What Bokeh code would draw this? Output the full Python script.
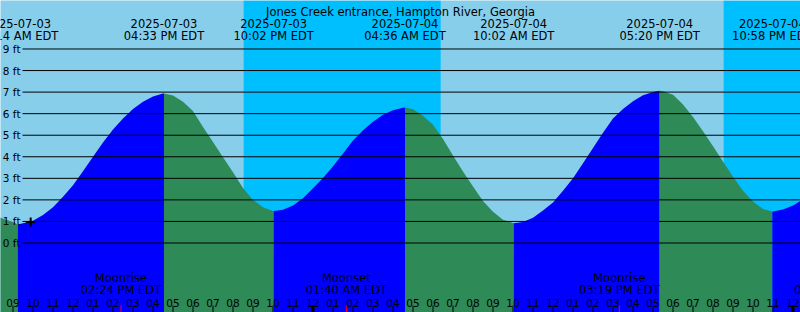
import pandas as pd
from bokeh.plotting import figure
from bokeh.models import Range1d
from bokeh.core.properties import value
from bokeh.embed import file_html
from bokeh.resources import INLINE

# ---------------- data ----------------
title_text = "Jones Creek entrance, Hampton River, Georgia"
T0 = pd.Timestamp("2025-07-03 00:00")

extreme_times = ["2025-07-03 09:14", "2025-07-03 16:33", "2025-07-03 22:02",
                 "2025-07-04 04:36", "2025-07-04 10:02", "2025-07-04 17:20",
                 "2025-07-04 22:58"]
extreme_heights = [0.86, 6.94, 1.48, 6.29, 0.92, 7.06, 1.46]
extreme_dates = ["2025-07-03", "2025-07-03", "2025-07-03", "2025-07-04",
                 "2025-07-04", "2025-07-04", "2025-07-04"]
extreme_clock = ["09:14 AM EDT", "04:33 PM EDT", "10:02 PM EDT", "04:36 AM EDT",
                 "10:02 AM EDT", "05:20 PM EDT", "10:58 PM EDT"]

# half-hourly water level, from 2025-07-03 08:00 to 2025-07-05 01:00
level_start = "2025-07-03 08:00"
level_step_min = 30
level_heights = [1.32, 1.12, 0.97, 0.92, 1.03, 1.30, 1.66, 2.15, 2.68,
                 3.33, 4.00, 4.66, 5.27, 5.78, 6.22, 6.55, 6.80, 6.93,
                 6.84, 6.55, 6.12, 5.38, 4.69, 3.98, 3.28, 2.55, 2.00,
                 1.66, 1.49, 1.54, 1.74, 2.08, 2.54, 3.02, 3.56, 4.15,
                 4.75, 5.23, 5.62, 5.95, 6.16, 6.28, 6.20, 5.90, 5.48,
                 4.82, 4.06, 3.32, 2.62, 1.95, 1.45, 1.08, 0.93, 0.98,
                 1.17, 1.51, 1.88, 2.42, 3.00, 3.70, 4.41, 5.12, 5.78,
                 6.22, 6.58, 6.85, 7.00, 7.04, 6.88, 6.42, 5.84, 5.18,
                 4.49, 3.78, 3.07, 2.42, 1.92, 1.58, 1.46, 1.55, 1.74,
                 2.02, 2.40]

night_starts = ["2025-07-03 20:32", "2025-07-04 20:32"]
night_ends = ["2025-07-04 06:23", "2025-07-05 06:24"]

moon_times = ["2025-07-03 14:24", "2025-07-04 01:40", "2025-07-04 15:19", "2025-07-05 02:05"]
moon_events = ["Moonrise", "Moonset", "Moonrise", "Moonset"]
moon_clock = ["02:24 PM EDT", "01:40 AM EDT", "03:19 PM EDT", "02:05 AM EDT"]

now_time = "2025-07-03 09:53"
now_height = 0.97

level_values = [0, 1, 2, 3, 4, 5, 6, 7, 8, 9]
level_labels = ["0 ft", "1 ft", "2 ft", "3 ft", "4 ft", "5 ft", "6 ft", "7 ft", "8 ft", "9 ft"]

hour_ticks = list(range(9, 49))
hour_labels = ["09", "10", "11", "12", "01", "02", "03", "04", "05", "06", "07", "08",
               "09", "10", "11", "12", "01", "02", "03", "04", "05", "06", "07", "08",
               "09", "10", "11", "12", "01", "02", "03", "04", "05", "06", "07", "08",
               "09", "10", "11", "12"]
midnight_ticks = [24, 48]

# ---------------- layout helpers ----------------
W, H = 800, 312
PX_PER_H = 20.0
PX_PER_FT = 21.556
X0 = 9 - 12.5 / PX_PER_H
Y_TOP = 242.5 / PX_PER_FT
Y_BOT = Y_TOP - H / PX_PER_FT


def hx(px):
    return X0 + px / PX_PER_H


def py(px):
    return Y_TOP - px / PX_PER_FT


def hours(ts):
    return [(pd.Timestamp(t) - T0).total_seconds() / 3600.0 for t in ts]


FONT = value("DejaVu Sans")
FS = "11.5px"
FS_SMALL = "10.5px"

p = figure(width=W, height=H, output_backend="svg", toolbar_location=None,
           x_range=Range1d(X0, X0 + W / PX_PER_H), y_range=Range1d(Y_BOT, Y_TOP),
           x_axis_location=None, y_axis_location=None, min_border=0,
           background_fill_color="#87CEEB", border_fill_color="#87CEEB",
           outline_line_color=None)
p.grid.visible = False

# night sky
ns, ne = hours(night_starts), hours(night_ends)
p.quad(left=ns, right=ne, bottom=Y_BOT, top=Y_TOP, fill_color="#00BFFF", line_color=None)

# water: merge level readings and extremes
t_start = hours([level_start])[0]
level_hours = [t_start + i * level_step_min / 60.0 for i in range(len(level_heights))]
ext_h = hours(extreme_times)
pts = sorted(list(zip(level_hours, level_heights)) + list(zip(ext_h, extreme_heights)))
bounds = [pts[0][0]] + ext_h + [pts[-1][0]]
rising = False  # before the first low the tide is falling
for a, b in zip(bounds[:-1], bounds[1:]):
    seg = [(t, v) for t, v in pts if a <= t <= b]
    xs = [t for t, _ in seg]
    ys = [v for _, v in seg]
    p.varea(x=xs, y1=[Y_BOT] * len(xs), y2=ys,
            fill_color="#0000FF" if rising else "#2E8B57")
    rising = not rising

# level lines
p.segment(x0=[hx(22)] * len(level_values), y0=level_values,
          x1=[hx(W)] * len(level_values), y1=level_values,
          line_color="black", line_width=1)
p.text(x=[hx(20)] * len(level_values), y=level_values, text=level_labels,
       text_align="right", text_baseline="middle", text_font=FONT,
       text_font_size=FS_SMALL, text_color="black")

# "now" mark
p.scatter(x=hours([now_time]), y=[now_height], marker="cross", size=9,
          line_width=2, line_color="black")

# title
p.text(x=[hx(W / 2)], y=[py(11)], text=[title_text], text_align="center",
       text_baseline="alphabetic", text_font=FONT, text_font_size=FS,
       text_color="black")

# tide event labels
p.text(x=ext_h, y=[py(22.5)] * len(ext_h), text=extreme_dates, text_align="center",
       text_baseline="alphabetic", text_font=FONT, text_font_size=FS, text_color="black")
p.text(x=ext_h, y=[py(35)] * len(ext_h), text=extreme_clock, text_align="center",
       text_baseline="alphabetic", text_font=FONT, text_font_size=FS, text_color="black")

# moon labels
mh = hours(moon_times)
p.text(x=mh, y=[py(277.5)] * len(mh), text=moon_events, text_align="center",
       text_baseline="alphabetic", text_font=FONT, text_font_size=FS, text_color="black")
p.text(x=mh, y=[py(289.5)] * len(mh), text=moon_clock, text_align="center",
       text_baseline="alphabetic", text_font=FONT, text_font_size=FS, text_color="black")

# hour labels and ticks
p.text(x=hour_ticks, y=[py(302.5)] * len(hour_ticks), text=hour_labels,
       text_align="center", text_baseline="alphabetic", text_font=FONT,
       text_font_size=FS_SMALL, text_color="black")
p.segment(x0=hour_ticks, y0=[py(305)] * len(hour_ticks), x1=hour_ticks,
          y1=[Y_BOT] * len(hour_ticks), line_color="black", line_width=1)
p.segment(x0=midnight_ticks, y0=[py(305)] * len(midnight_ticks), x1=midnight_ticks,
          y1=[Y_BOT] * len(midnight_ticks), line_color="black", line_width=3)
p.segment(x0=mh, y0=[py(305)] * len(mh), x1=mh, y1=[Y_BOT] * len(mh),
          line_color="red", line_width=1)

open("out.html", "w").write(file_html(p, INLINE))
